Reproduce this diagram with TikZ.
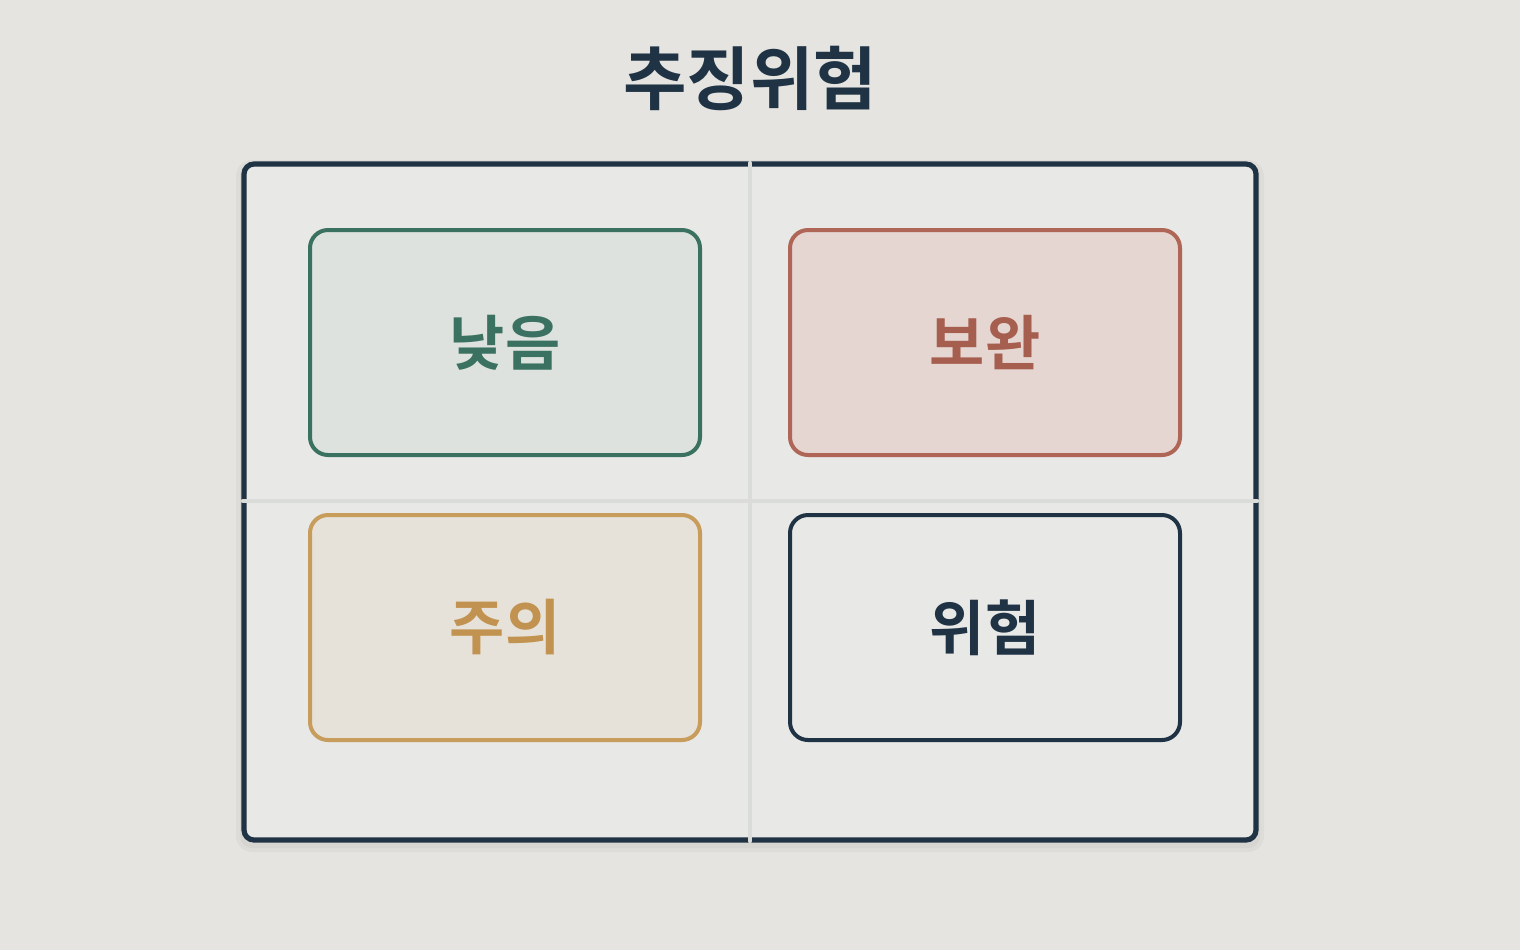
\documentclass[tikz,border=0pt]{standalone}
\usepackage{fontspec}
\newfontfamily\kr{Noto Sans CJK KR Bold}
\definecolor{bg}{HTML}{E5E4E0}
\definecolor{panel}{HTML}{E8E8E7}
\definecolor{navy}{HTML}{1F3344}
\definecolor{divider}{HTML}{DADCDA}
\definecolor{gstroke}{HTML}{3A7160}
\definecolor{gfill}{HTML}{DDE2DE}
\definecolor{rstroke}{HTML}{B06656}
\definecolor{rfill}{HTML}{E5D6D2}
\definecolor{rtext}{HTML}{A65E4E}
\definecolor{ystroke}{HTML}{C89C5A}
\definecolor{yfill}{HTML}{E6E2DA}
\definecolor{ytext}{HTML}{C29350}
\tikzset{
  quad/.style={draw, line width=2pt, rounded corners=9pt, minimum width=195pt, minimum height=112.5pt, inner sep=0pt, font=\kr\fontsize{30}{30}\selectfont},
  frame/.style={draw=navy, fill=panel, line width=2.6pt, rounded corners=5pt},
  divline/.style={draw=divider, line width=2.2pt, line cap=round}
}
\begin{document}
\begin{tikzpicture}[x=0.5pt,y=-0.5pt]
\fill[bg] (0,0) rectangle (1520,950);
\useasboundingbox (0,0) rectangle (1520,950);
\node[text=navy, font=\kr\fontsize{34.5}{34.5}\selectfont] (title) at (750,78) {추징위험};
\fill[black, opacity=0.03, rounded corners=8pt] (236,160) rectangle (1264,852);
\fill[black, opacity=0.03, rounded corners=6pt] (240,164) rectangle (1260,848);
\draw[frame] (244,164) rectangle (1256,840);
\coordinate (vt) at (750,163);
\coordinate (vb) at (750,841);
\coordinate (hl) at (243,501);
\coordinate (hr) at (1257,501);
\draw[divline] (vt) -- (vb);
\draw[divline] (hl) -- (hr);
\node[quad, draw=gstroke, fill=gfill, text=gstroke] (low) at (505,342.5) {낮음};
\node[quad, draw=rstroke, fill=rfill, text=rtext] (comp) at (985,342.5) {보완};
\node[quad, draw=ystroke, fill=yfill, text=ytext] (caut) at (505,627.5) {주의};
\node[quad, draw=navy, fill=panel, text=navy] (risk) at (985,627.5) {위험};
\end{tikzpicture}
\end{document}
